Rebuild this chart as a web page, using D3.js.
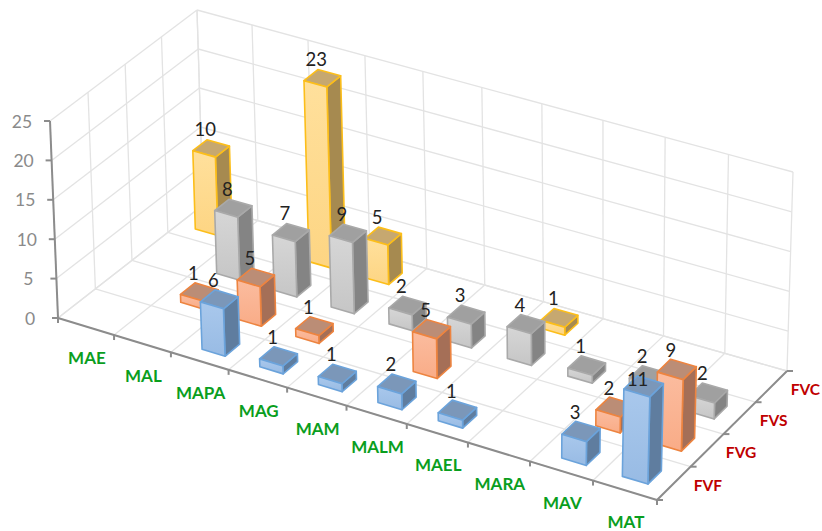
<!DOCTYPE html>
<html><head><meta charset="utf-8">
<script src="https://cdn.jsdelivr.net/npm/d3@7"></script>
<style>html,body{margin:0;padding:0;background:#fff}svg{display:block}text{font-family:Lato,"Open Sans",sans-serif}</style>
</head><body><div id="c"></div>
<script>
const categories = ["MAE","MAL","MAPA","MAG","MAM","MALM","MAEL","MARA","MAV","MAT"];
const depthNames = ["FVF","FVG","FVS","FVC"];
const valueTicks = [0,5,10,15,20,25];
const fvf = [0,0,6,1,1,2,1,0,3,11];
const fvg = [0,1,5,1,0,5,0,0,2,9];
const fvs = [0,8,7,9,2,3,4,1,2,2];
const fvc = [10,0,23,5,0,0,1,0,0,0];
const seriesValues = [fvf,fvg,fvs,fvc];
const faceFill = [["#a9c8ec","#98bbe4"],["#fbbc9f","#f9ac87"],["#d6d6d6","#c6c6c6"],["#ffe09c","#fdd583"]];
const topFill = ["#7b97b9","#bb8d76","#a0a0a0","#c6a870"];
const sideFill = ["#5f7d9f","#a56f57","#848484","#a68a50"];
const edge = ["#6ba3db","#ed8440","#a9a9a9","#fcbe1a"];

const W=822,H=531;
const svg=d3.select("#c").append("svg").attr("width",W).attr("height",H);

function homography(a,b,c,d){ // unit square (0,0),(1,0),(1,1),(0,1) -> a,b,c,d
  const dx1=b[0]-c[0],dx2=d[0]-c[0],sx=a[0]-b[0]+c[0]-d[0];
  const dy1=b[1]-c[1],dy2=d[1]-c[1],sy=a[1]-b[1]+c[1]-d[1];
  const den=dx1*dy2-dx2*dy1;
  const g=(sx*dy2-dx2*sy)/den,h=(dx1*sy-sx*dy1)/den;
  const A=b[0]-a[0]+g*b[0],B=d[0]-a[0]+h*d[0],C=a[0];
  const D=b[1]-a[1]+g*b[1],E=d[1]-a[1]+h*d[1],F=a[1];
  return (u,v)=>{const w=g*u+h*v+1;return [(A*u+B*v+C)/w,(D*u+E*v+F)/w];};
}
const floorH=homography([58,318],[657,500],[787,371],[203,205]);
const ceilH =homography([50,121],[662,302],[793,172],[197,10]);

const uScale=d3.scaleBand().domain(categories).range([0,1]);
const vScale=d3.scaleBand().domain(depthNames).range([0,1]);
const hScale=d3.scaleLinear().domain([0,25]).range([0,1]);
const barShift=d3.scaleLinear().domain([0,0.2,0.85,0.93,1]).range([0,0.205,0.854,0.93,1]);
function P(u,v,val){const f=floorH(u,v),c=ceilH(u,v),t=hScale(val);return [f[0]+(c[0]-f[0])*t,f[1]+(c[1]-f[1])*t];}
const line=d3.line();

// gradients
const defs=svg.append("defs");
faceFill.forEach((f,i)=>{const g=defs.append("linearGradient").attr("id","g"+i).attr("x1",0).attr("y1",0).attr("x2",0).attr("y2",1);
  g.append("stop").attr("offset",0).attr("stop-color",f[0]);g.append("stop").attr("offset",1).attr("stop-color",f[1]);});

// grid
const grid=svg.append("g").attr("fill","none").attr("stroke","#e3e3e3").attr("stroke-width",1.3);
const uEdges=categories.map(c=>uScale(c)).concat([1]);
const vEdges=depthNames.map(c=>vScale(c)).concat([1]);
function seg(a,b){grid.append("path").attr("d",line([a,b]));}
uEdges.forEach(u=>{seg(P(u,0,0),P(u,1,0));seg(P(u,1,0),P(u,1,25));});
vEdges.forEach(v=>{seg(P(0,v,0),P(1,v,0));seg(P(0,v,0),P(0,v,25));});
valueTicks.forEach(t=>{seg(P(0,0,t),P(0,1,t));seg(P(0,1,t),P(1,1,t));});

// axes
const axis=svg.append("g").attr("fill","none").attr("stroke","#8c8c8c").attr("stroke-width",2);
function aseg(a,b){axis.append("path").attr("d",line([a,b]));}
aseg(P(0,0,0),P(0,0,25));aseg(P(0,0,0),P(1,0,0));aseg(P(1,0,0),P(1,1,0));
valueTicks.forEach(t=>{const p=P(0,0,t);aseg(p,[p[0]-6,p[1]]);});
uEdges.forEach(u=>{const p=P(u,0,0);aseg(p,[p[0],p[1]+5]);});
vEdges.forEach(v=>{const p=P(1,v,0);aseg(p,[p[0]+6,p[1]]);});

// axis labels
const lab=svg.append("g").attr("text-anchor","middle").attr("dominant-baseline","central");
valueTicks.forEach(t=>{const p=P(0,0,t);lab.append("text").attr("x",p[0]-28).attr("y",p[1]).attr("fill","#8a8a8a").attr("font-size",17.5).text(t);});
categories.forEach(c=>{const p=P(uScale(c)+uScale.bandwidth()/2,0,0);lab.append("text").attr("x",p[0]+1).attr("y",p[1]+31.5).attr("fill","#0a9e1e").attr("font-weight",700).attr("font-size",17).text(c);});
depthNames.forEach(c=>{const p=P(1,vScale(c)+vScale.bandwidth()/2,0);lab.append("text").attr("x",p[0]+34).attr("y",p[1]+2).attr("fill","#c00000").attr("font-weight",700).attr("font-size",15.5).text(c);});

// bars: back to front, left to right
const gap=0.3;
const bars=svg.append("g").attr("stroke-width",1.6).attr("stroke-linejoin","round");
const labels=[];
for(let s=depthNames.length-1;s>=0;s--){
  const v0=vScale(depthNames[s])+vScale.bandwidth()*gap,v1=vScale(depthNames[s])+vScale.bandwidth()*(1-gap);
  categories.forEach((c,i)=>{
    const val=seriesValues[s][i]; if(!val) return;
    const u0=barShift(uScale(c)+uScale.bandwidth()*gap),u1=barShift(uScale(c)+uScale.bandwidth()*(1-gap));
    const g=bars.append("g").attr("stroke",edge[s]);
    const face=(pts,fill)=>g.append("path").attr("d",line(pts)+"Z").attr("fill",fill);
    face([P(u1,v0,0),P(u1,v1,0),P(u1,v1,val),P(u1,v0,val)],sideFill[s]);
    face([P(u0,v0,val),P(u1,v0,val),P(u1,v1,val),P(u0,v1,val)],topFill[s]);
    face([P(u0,v0,0),P(u1,v0,0),P(u1,v0,val),P(u0,v0,val)],`url(#g${s})`);
    const t=P((u0+u1)/2,(v0+v1)/2,val);
    // the front tallest bar's label sits lower, on its top face, as in the source chart
    const dy=(s===0&&val>10)?-7:-19.5;
    labels.push({x:t[0]-6,y:t[1]+dy,val});
  });
}
svg.append("g").attr("text-anchor","middle").attr("dominant-baseline","central").selectAll("text").data(labels).join("text")
  .attr("x",d=>d.x).attr("y",d=>d.y).attr("fill","#222").attr("font-size",18.5).text(d=>d.val);
</script></body></html>
